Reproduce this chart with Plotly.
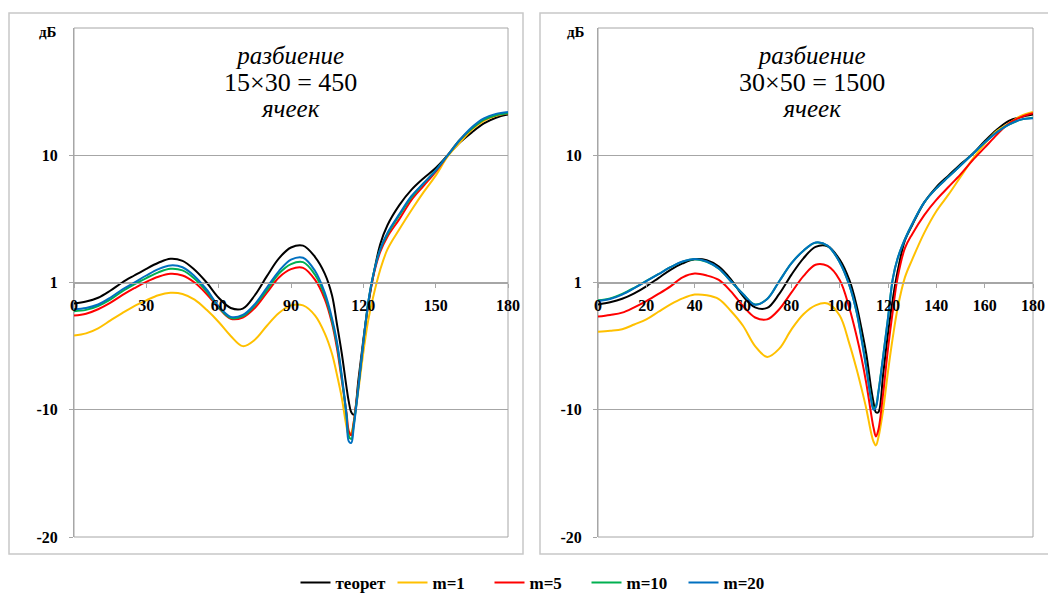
import plotly.graph_objects as go

# common angle grid (degrees) for both panels
X_GRID = [0,5,10,15,20,25,30,35,40,45,50,55,60,65,70,75,80,85,90,95,100,104,107,109,111,113,114,115,116,118,120,122,124,127,130,135,140,145,150,155,160,165,170,175,180]

# ---------------- left panel: 15x30 = 450 cells ----------------
L_teor = [-1.65,-1.5,-1.2,-0.65,0.0,0.55,1.08,1.55,1.87,1.7,1.0,0.0,-1.2,-2.0,-2.05,-1.0,0.5,1.9,2.75,2.9,2.0,0.7,-1.0,-3.2,-5.5,-8.2,-9.4,-10.2,-10.4,-7.6,-4.5,-1.8,0.4,3.0,4.5,6.1,7.3,8.2,9.0,10.0,11.0,11.8,12.5,12.95,13.2]
L_m1 = [-4.17,-4.0,-3.6,-3.0,-2.4,-1.85,-1.4,-1.0,-0.81,-0.9,-1.35,-2.15,-3.1,-4.2,-5.0,-4.5,-3.4,-2.4,-1.8,-1.8,-2.6,-4.0,-5.6,-7.2,-9.0,-11.3,-12.0,-11.8,-11.0,-8.4,-5.5,-3.0,-1.2,1.0,2.6,4.2,5.7,7.1,8.4,9.9,11.0,12.0,12.7,13.1,13.3]
L_m5 = [-2.6,-2.45,-2.1,-1.6,-1.0,-0.45,0.05,0.45,0.68,0.55,0.0,-0.9,-2.0,-2.85,-2.75,-2.0,-0.8,0.4,1.05,1.15,0.2,-1.3,-3.2,-5.1,-7.6,-10.2,-11.7,-12.0,-11.0,-8.0,-4.7,-1.7,0.4,2.4,3.6,5.0,6.5,7.6,8.7,10.0,11.2,12.1,12.8,13.15,13.3]
L_m10 = [-2.25,-2.15,-1.85,-1.35,-0.7,-0.15,0.35,0.8,1.08,0.95,0.3,-0.7,-1.95,-2.8,-2.65,-1.8,-0.6,0.7,1.45,1.6,0.6,-1.0,-3.0,-4.8,-7.4,-10.4,-12.1,-12.3,-11.2,-8.1,-4.7,-1.6,0.5,2.6,3.8,5.3,6.7,7.8,8.8,10.0,11.2,12.1,12.8,13.15,13.3]
L_m20 = [-2.1,-2.0,-1.73,-1.2,-0.55,0.0,0.55,1.05,1.34,1.2,0.5,-0.55,-1.87,-2.7,-2.55,-1.7,-0.4,0.9,1.8,1.95,0.9,-0.8,-2.8,-4.6,-7.2,-10.4,-12.5,-12.6,-11.4,-8.2,-4.7,-1.6,0.5,2.6,3.9,5.4,6.8,7.8,8.8,10.0,11.2,12.2,12.9,13.25,13.4]

# ---------------- right panel: 30x50 = 1500 cells ----------------
R_teor = [-1.72,-1.55,-1.28,-0.85,-0.3,0.35,1.0,1.5,1.83,1.75,1.25,0.25,-1.07,-1.95,-2.0,-0.9,0.6,1.9,2.8,2.85,1.8,0.2,-1.8,-3.6,-5.6,-8.3,-9.4,-10.2,-10.2,-7.2,-4.0,-1.3,0.9,3.3,4.5,6.3,7.5,8.4,9.3,10.1,11.1,12.0,12.7,13.0,13.2]
R_m1 = [-3.88,-3.8,-3.67,-3.3,-2.9,-2.3,-1.72,-1.25,-0.95,-1.0,-1.3,-2.24,-3.4,-5.0,-5.85,-5.2,-3.7,-2.5,-1.8,-1.65,-2.6,-4.8,-6.8,-8.3,-9.9,-11.8,-12.5,-12.8,-12.2,-10.0,-7.0,-4.3,-2.0,0.4,1.8,3.9,5.6,6.9,8.3,9.7,10.9,11.9,12.5,13.1,13.4]
R_m5 = [-2.68,-2.55,-2.37,-1.95,-1.46,-0.9,-0.3,0.4,0.7,0.55,0.2,-0.7,-1.85,-2.75,-2.9,-2.1,-0.8,0.5,1.4,1.3,0.2,-2.0,-4.2,-5.9,-7.9,-10.3,-11.4,-12.1,-11.6,-8.7,-5.2,-2.2,0.4,2.7,3.8,5.3,6.5,7.5,8.5,9.6,10.6,11.6,12.5,13.0,13.3]
R_m10 = [-1.4,-1.25,-0.9,-0.42,0.12,0.66,1.2,1.64,1.83,1.63,1.08,0.1,-0.9,-1.73,-1.3,0.1,1.5,2.5,3.12,2.88,1.6,-0.2,-2.3,-4.3,-6.6,-9.1,-9.9,-9.7,-8.6,-5.8,-2.8,0.3,1.9,3.4,4.6,6.3,7.4,8.3,9.2,10.1,11.0,11.8,12.4,12.8,12.95]
R_m20 = [-1.46,-1.3,-0.95,-0.45,0.1,0.65,1.2,1.65,1.85,1.65,1.1,0.1,-0.9,-1.75,-1.3,0.1,1.5,2.5,3.15,2.9,1.6,-0.2,-2.3,-4.4,-6.7,-9.2,-10.0,-9.8,-8.7,-5.8,-2.8,0.3,1.9,3.4,4.6,6.3,7.4,8.3,9.2,10.1,11.0,11.8,12.4,12.8,12.9]

NAMES = ["теорет", "m=1", "m=5", "m=10", "m=20"]
COLORS = ["#000000", "#FFC000", "#FF0000", "#00B050", "#0070C0"]
LEFT = [L_teor, L_m1, L_m5, L_m10, L_m20]
RIGHT = [R_teor, R_m1, R_m5, R_m10, R_m20]

Y_TICKVALS = [-20, -10, 0, 10]
Y_TICKTEXT = ["-20", "-10", "1", "10"]
LX_TICKS = [0, 30, 60, 90, 120, 150, 180]
RX_TICKS = [0, 20, 40, 60, 80, 100, 120, 140, 160, 180]
TITLES = ["15×30 = 450", "30×50 = 1500"]

SERIF = "Liberation Serif, Times New Roman, serif"
GRAY = "#A6A6A6"

W, H = 1048, 594

def px(xp):
    return xp / W

def py(yp):
    return 1 - yp / H

fig = go.Figure()
for i, ys in enumerate(LEFT):
    fig.add_trace(go.Scatter(x=X_GRID, y=ys, mode="lines", name=NAMES[i],
                             line=dict(color=COLORS[i], width=2, shape="spline", smoothing=1.0),
                             xaxis="x", yaxis="y", showlegend=True))
for i, ys in enumerate(RIGHT):
    fig.add_trace(go.Scatter(x=X_GRID, y=ys, mode="lines", name=NAMES[i],
                             line=dict(color=COLORS[i], width=2, shape="spline", smoothing=1.0),
                             xaxis="x2", yaxis="y2", showlegend=False))

tickfont = dict(family=SERIF, size=16, color="#000000", weight="bold")
ydom = [py(537), py(28)]
xpos = py(283)

def xax(dom, ticks):
    return dict(domain=dom, range=[0, 180], tickvals=ticks, anchor="free", position=xpos,
                showline=True, linecolor=GRAY, linewidth=1, ticks="outside", ticklen=4,
                tickcolor=GRAY, showgrid=False, zeroline=False, tickfont=tickfont,
                ticklabelstandoff=4, ticklabeloverflow="allow", automargin=False,
                fixedrange=True)

def yax(anchor):
    return dict(domain=ydom, range=[-20, 20], tickvals=Y_TICKVALS, ticktext=Y_TICKTEXT,
                anchor=anchor, showline=True, linecolor=GRAY, linewidth=1, ticks="outside",
                ticklen=4, tickcolor=GRAY, showgrid=True, gridcolor=GRAY, gridwidth=1,
                zeroline=False, tickfont=tickfont, ticklabelstandoff=8, automargin=False,
                fixedrange=True)

shapes = []
for xr, yr in (("x domain", "y domain"), ("x2 domain", "y2 domain")):
    shapes.append(dict(type="rect", xref=xr, yref=yr, x0=0, x1=1, y0=0, y1=1,
                       line=dict(color=GRAY, width=1), layer="below"))
for (x0, x1) in ((9, 523), (540, 1056)):
    shapes.append(dict(type="rect", xref="paper", yref="paper",
                       x0=px(x0), x1=px(x1), y0=py(554), y1=py(13),
                       line=dict(color="#C8C8C8", width=1.5), layer="below"))

annotations = []
for cx, mid, lbl_x in ((290, TITLES[0], 48), (812, TITLES[1], 576)):
    txt = ("<span style='font-size:25px'><i>разбиение</i></span><br>"
           "<span style='font-size:26px'>" + mid + "</span><br>"
           "<span style='font-size:25px'><i>ячеек</i></span>")
    annotations.append(dict(text=txt, x=px(cx), y=py(82), xref="paper", yref="paper",
                            xanchor="center", yanchor="middle", align="center", showarrow=False,
                            font=dict(family=SERIF, size=20.5, color="#000000")))
    annotations.append(dict(text="дБ", x=px(lbl_x), y=py(32), xref="paper", yref="paper",
                            xanchor="center", yanchor="middle", showarrow=False,
                            font=dict(family=SERIF, size=15, color="#000000", weight="bold")))

fig.update_layout(
    width=W, height=H, margin=dict(l=0, r=0, t=0, b=0, autoexpand=False),
    paper_bgcolor="white", plot_bgcolor="white",
    font=dict(family=SERIF, color="#000000"),
    xaxis=xax([px(74), px(508)], LX_TICKS),
    yaxis=yax("x"),
    xaxis2=xax([px(598), px(1033)], RX_TICKS),
    yaxis2=yax("x2"),
    shapes=shapes, annotations=annotations,
    legend=dict(orientation="h", x=px(538), xanchor="center", y=py(583), yanchor="middle",
                font=dict(family=SERIF, size=17, color="#000000", weight="bold"),
                itemwidth=30, entrywidth=52, entrywidthmode="pixels", bgcolor="rgba(0,0,0,0)"),
    showlegend=True,
)

POST = ("var de=document.documentElement,b=document.body;"
        "de.style.margin='0';de.style.padding='0';de.style.overflow='hidden';"
        "b.style.margin='0';b.style.padding='0';b.style.overflow='hidden';")

fig.write_html("out.html", config={"displayModeBar": False}, post_script=POST)
